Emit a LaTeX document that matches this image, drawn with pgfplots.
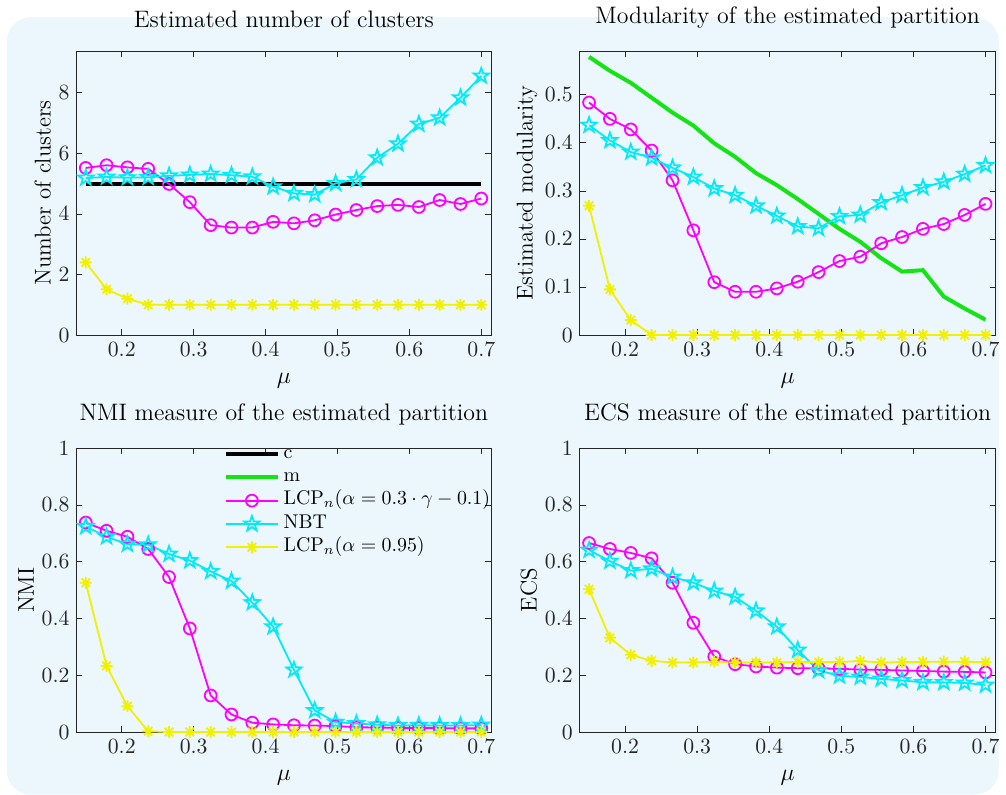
\documentclass[border=0pt]{standalone}
\usepackage{fontspec}
\usepackage{pgfplots}
\usepackage{pgfplotstable}
\pgfplotsset{compat=1.18}
\usetikzlibrary{plotmarks}

\definecolor{bgblue}{RGB}{235,247,253}
\definecolor{axgray}{RGB}{38,38,38}
\definecolor{mgreen}{RGB}{20,228,20}
\definecolor{myellow}{RGB}{240,240,0}
\definecolor{mmagenta}{RGB}{255,0,255}
\definecolor{mcyan}{RGB}{0,235,245}

% MATLAB-like pentagram (outline) and 8-spoke asterisk
\pgfdeclareplotmark{pentagram}{%
  \pgfpathmoveto{\pgfpointpolar{90}{\pgfplotmarksize}}%
  \pgfpathlineto{\pgfpointpolar{126}{0.4\pgfplotmarksize}}%
  \pgfpathlineto{\pgfpointpolar{162}{\pgfplotmarksize}}%
  \pgfpathlineto{\pgfpointpolar{198}{0.4\pgfplotmarksize}}%
  \pgfpathlineto{\pgfpointpolar{234}{\pgfplotmarksize}}%
  \pgfpathlineto{\pgfpointpolar{270}{0.4\pgfplotmarksize}}%
  \pgfpathlineto{\pgfpointpolar{306}{\pgfplotmarksize}}%
  \pgfpathlineto{\pgfpointpolar{342}{0.4\pgfplotmarksize}}%
  \pgfpathlineto{\pgfpointpolar{18}{\pgfplotmarksize}}%
  \pgfpathlineto{\pgfpointpolar{54}{0.4\pgfplotmarksize}}%
  \pgfpathclose
  \pgfusepathqstroke}
\pgfdeclareplotmark{mstar}{%
  \pgfpathmoveto{\pgfqpoint{-\pgfplotmarksize}{0pt}}\pgfpathlineto{\pgfqpoint{\pgfplotmarksize}{0pt}}%
  \pgfpathmoveto{\pgfqpoint{0pt}{-\pgfplotmarksize}}\pgfpathlineto{\pgfqpoint{0pt}{\pgfplotmarksize}}%
  \pgfpathmoveto{\pgfqpoint{-.707\pgfplotmarksize}{-.707\pgfplotmarksize}}\pgfpathlineto{\pgfqpoint{.707\pgfplotmarksize}{.707\pgfplotmarksize}}%
  \pgfpathmoveto{\pgfqpoint{-.707\pgfplotmarksize}{.707\pgfplotmarksize}}\pgfpathlineto{\pgfqpoint{.707\pgfplotmarksize}{-.707\pgfplotmarksize}}%
  \pgfusepathqstroke}

\pgfplotsset{
  panel/.style={
    scale only axis, width=209pt, height=143pt,
    xmin=0.137, xmax=0.714,
    xtick={0.2,0.3,0.4,0.5,0.6,0.7},
    tick align=inside, clip=false,
    ticklabel style={font=\fontsize{10.5}{12}\selectfont, text=axgray},
    axis line style={axgray, line width=0.4pt},
    major tick style={axgray, line width=0.4pt}, major tick length=3pt,
    title style={font=\fontsize{12}{14}\selectfont, yshift=2pt},
    label style={font=\fontsize{11.5}{13}\selectfont},
    xlabel={$\mu$}, xlabel shift=2pt, ylabel shift=-3pt,
    legend image code/.code={\draw[mark repeat=2,mark phase=2,##1] plot coordinates {(0pt,0pt) (13pt,0pt) (26pt,0pt)};},
  },
  lcp/.style={mmagenta, line width=0.9pt, mark=o, mark size=3pt, mark options={solid}},
  nbt/.style={mcyan, line width=0.9pt, mark=pentagram, mark size=4pt, mark options={solid}},
  lcp95/.style={myellow, line width=0.9pt, mark=mstar, mark size=3pt, mark options={solid}},
}

\pgfplotstableread{
mu c lcp nbt lcp95
0.1500 5 5.52 5.19 2.40
0.1789 5 5.61 5.22 1.51
0.2079 5 5.54 5.20 1.20
0.2368 5 5.49 5.21 1.00
0.2658 5 4.99 5.26 1.00
0.2947 5 4.39 5.29 1.00
0.3237 5 3.63 5.32 1.00
0.3526 5 3.55 5.28 1.00
0.3816 5 3.55 5.23 1.00
0.4105 5 3.74 4.90 1.00
0.4395 5 3.69 4.68 1.00
0.4684 5 3.79 4.64 1.00
0.4974 5 3.98 5.01 1.00
0.5263 5 4.13 5.14 1.00
0.5553 5 4.26 5.86 1.00
0.5842 5 4.30 6.32 1.00
0.6132 5 4.23 6.97 1.00
0.6421 5 4.46 7.18 1.00
0.6711 5 4.33 7.84 1.00
0.7000 5 4.51 8.56 1.00
}\clusters

\pgfplotstableread{
mu m lcp nbt lcp95
0.1500 0.579 0.484 0.437 0.269
0.1789 0.550 0.450 0.405 0.095
0.2079 0.525 0.428 0.381 0.031
0.2368 0.494 0.384 0.369 0
0.2658 0.463 0.322 0.348 0
0.2947 0.436 0.218 0.329 0
0.3237 0.399 0.110 0.305 0
0.3526 0.371 0.090 0.291 0
0.3816 0.337 0.090 0.269 0
0.4105 0.312 0.097 0.248 0
0.4395 0.283 0.111 0.226 0
0.4684 0.252 0.131 0.222 0
0.4974 0.221 0.154 0.247 0
0.5263 0.194 0.163 0.250 0
0.5553 0.160 0.191 0.276 0
0.5842 0.132 0.204 0.291 0
0.6132 0.135 0.221 0.307 0
0.6421 0.080 0.231 0.319 0
0.6711 0.055 0.250 0.335 0
0.7000 0.032 0.273 0.353 0
}\modularity

\pgfplotstableread{
mu lcp nbt lcp95
0.1500 0.738 0.724 0.526
0.1789 0.709 0.688 0.233
0.2079 0.688 0.662 0.091
0.2368 0.645 0.660 0.003
0.2658 0.546 0.627 0
0.2947 0.365 0.604 0
0.3237 0.129 0.566 0
0.3526 0.062 0.532 0
0.3816 0.033 0.456 0
0.4105 0.027 0.371 0
0.4395 0.024 0.219 0
0.4684 0.023 0.076 0
0.4974 0.021 0.035 0
0.5263 0.017 0.030 0
0.5553 0.016 0.026 0
0.5842 0.015 0.023 0
0.6132 0.014 0.024 0
0.6421 0.014 0.023 0
0.6711 0.013 0.023 0
0.7000 0.013 0.025 0
}\nmi

\pgfplotstableread{
mu lcp nbt lcp95
0.1500 0.666 0.641 0.503
0.1789 0.645 0.602 0.332
0.2079 0.631 0.569 0.272
0.2368 0.612 0.575 0.251
0.2658 0.526 0.546 0.245
0.2947 0.385 0.526 0.245
0.3237 0.266 0.497 0.248
0.3526 0.239 0.476 0.245
0.3816 0.231 0.427 0.245
0.4105 0.227 0.371 0.245
0.4395 0.225 0.289 0.247
0.4684 0.224 0.217 0.246
0.4974 0.223 0.198 0.247
0.5263 0.220 0.194 0.250
0.5553 0.219 0.187 0.245
0.5842 0.217 0.182 0.246
0.6132 0.215 0.175 0.247
0.6421 0.213 0.175 0.248
0.6711 0.212 0.173 0.248
0.7000 0.210 0.166 0.246
}\ecs

\begin{document}
\begin{tikzpicture}
\fill[white] (0,0) rectangle (503pt,393pt);
\fill[bgblue, rounded corners=12pt] (3.5pt,0) rectangle (503pt,391.5pt);

% top left
\begin{axis}[panel, at={(38.5pt,231.5pt)}, anchor=south west,
  ymin=0, ymax=9.38, ytick={0,2,4,6,8},
  title={Estimated number of clusters}, ylabel={Number of clusters}]
\addplot[black, line width=2pt] table[x=mu, y=c] {\clusters};
\addplot[lcp] table[x=mu, y=lcp] {\clusters};
\addplot[nbt] table[x=mu, y=nbt] {\clusters};
\addplot[lcp95] table[x=mu, y=lcp95] {\clusters};
\end{axis}

% top right
\begin{axis}[panel, at={(292pt,231.5pt)}, anchor=south west, width=209.5pt,
  ymin=0, ymax=0.591, ytick={0,0.1,0.2,0.3,0.4,0.5},
  title={Modularity of the estimated partition}, ylabel={Estimated modularity}]
\addplot[mgreen, line width=2pt] table[x=mu, y=m] {\modularity};
\addplot[lcp] table[x=mu, y=lcp] {\modularity};
\addplot[nbt] table[x=mu, y=nbt] {\modularity};
\addplot[lcp95] table[x=mu, y=lcp95] {\modularity};
\end{axis}

% bottom left
\begin{axis}[panel, at={(38.5pt,31.5pt)}, anchor=south west,
  ymin=0, ymax=1, ytick={0,0.2,0.4,0.6,0.8,1},
  title={NMI measure of the estimated partition}, ylabel={NMI},
  legend style={draw=none, fill=none, at={(0.355,1.022)}, anchor=north west,
    font=\fontsize{10}{12}\selectfont, inner sep=0pt,
    nodes={text height=8pt, text depth=3.75pt, inner ysep=0pt}},
  legend cell align=left]
\addlegendimage{black, line width=2pt}
\addlegendentry{c}
\addlegendimage{mgreen, line width=2pt}
\addlegendentry{m}
\addplot[lcp] table[x=mu, y=lcp] {\nmi};
\addlegendentry{LCP$_n(\alpha=0.3\cdot\gamma-0.1)$}
\addplot[nbt] table[x=mu, y=nbt] {\nmi};
\addlegendentry{NBT}
\addplot[lcp95] table[x=mu, y=lcp95] {\nmi};
\addlegendentry{LCP$_n(\alpha=0.95)$}
\end{axis}

% bottom right
\begin{axis}[panel, at={(292pt,31.5pt)}, anchor=south west, width=209.5pt,
  ymin=0, ymax=1, ytick={0,0.2,0.4,0.6,0.8,1},
  title={ECS measure of the estimated partition}, ylabel={ECS}]
\addplot[lcp] table[x=mu, y=lcp] {\ecs};
\addplot[nbt] table[x=mu, y=nbt] {\ecs};
\addplot[lcp95] table[x=mu, y=lcp95] {\ecs};
\end{axis}
\end{tikzpicture}
\end{document}
